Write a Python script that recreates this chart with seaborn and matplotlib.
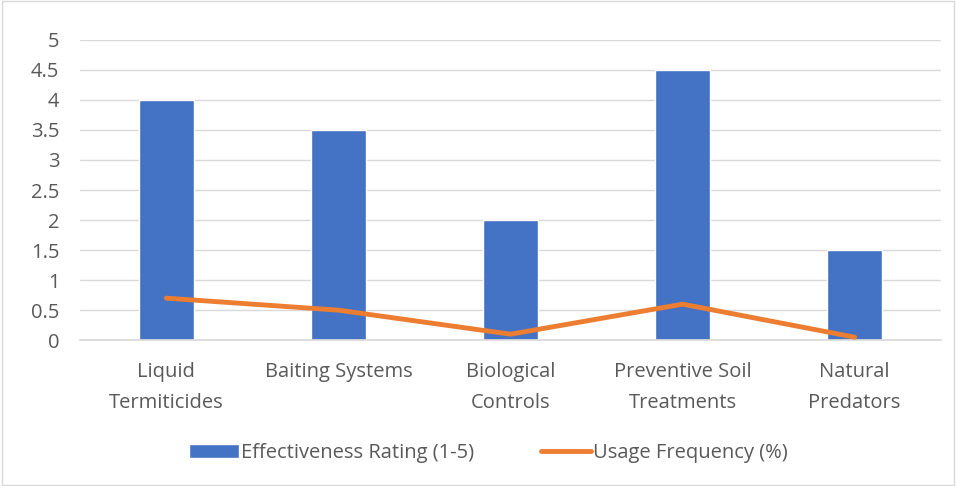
import seaborn as sns
import pandas as pd
import matplotlib.pyplot as plt
from matplotlib.patches import Patch, Rectangle
from matplotlib.lines import Line2D

categories = ['Liquid\nTermiticides', 'Baiting Systems', 'Biological\nControls',
              'Preventive Soil\nTreatments', 'Natural\nPredators']
effectiveness = [4, 3.5, 2, 4.5, 1.5]
usage = [0.7, 0.5, 0.1, 0.6, 0.05]
yticks = [0, 0.5, 1, 1.5, 2, 2.5, 3, 3.5, 4, 4.5, 5]
ytick_labels = ['0', '0.5', '1', '1.5', '2', '2.5', '3', '3.5', '4', '4.5', '5']

sns.set_theme(style='white')
plt.rcParams['font.family'] = ['Open Sans', 'DejaVu Sans']
text_color = '#595959'
fs = 14.5

df = pd.DataFrame({'Category': categories, 'Effectiveness': effectiveness, 'Usage': usage})

fig = plt.figure(figsize=(9.56, 4.86), dpi=100)
ax = fig.add_axes([0.084, 0.30, 0.900, 0.618])

sns.barplot(data=df, x='Category', y='Effectiveness', color='#4472C4', width=0.32,
            saturation=1, ax=ax, zorder=2)
ax.plot(range(len(categories)), df['Usage'], color='#ED7D31', linewidth=3.5,
        solid_capstyle='round', zorder=3)

ax.set_ylim(0, 5)
ax.set_xlim(-0.5, len(categories) - 0.5)
ax.set_yticks(yticks)
ax.set_yticklabels(ytick_labels)
ax.yaxis.grid(True, color='#D9D9D9', linewidth=1)
ax.set_axisbelow(True)
for s in ['top', 'right', 'left']:
    ax.spines[s].set_visible(False)
ax.spines['bottom'].set_color('#D9D9D9')
ax.set_xlabel('')
ax.set_ylabel('')
ax.tick_params(axis='both', length=0, labelsize=fs, colors=text_color)
ax.tick_params(axis='x', pad=16)
ax.tick_params(axis='y', pad=15)
for lbl in ax.get_xticklabels():
    lbl.set_linespacing(1.7)

handles = [Patch(facecolor='#4472C4', label='Effectiveness Rating (1-5)'),
           Line2D([0], [0], color='#ED7D31', linewidth=3.5, label='Usage Frequency (%)')]
fig.legend(handles=handles, loc='center', bbox_to_anchor=(0.511, 0.068), ncol=2,
           frameon=False, fontsize=fs, labelcolor=text_color, handlelength=2.5,
           handletextpad=0.1, columnspacing=3.3)

fig.patches.append(Rectangle((0.002, 0.002), 0.996, 0.996, transform=fig.transFigure,
                             fill=False, edgecolor='#D9D9D9', linewidth=1))

plt.savefig('out.png', dpi=100)
